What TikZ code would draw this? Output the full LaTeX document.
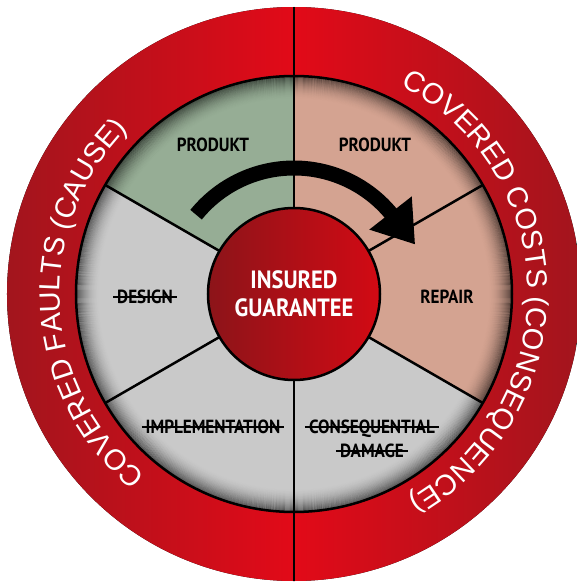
\documentclass[tikz,border=0pt]{standalone}
\usepackage{fontspec}
\setsansfont{Liberation Sans}
\newfontfamily\labelfont[FakeStretch=0.9]{PT Sans}
\usetikzlibrary{arrows.meta, decorations.text}
\definecolor{ringdark}{HTML}{A2151D}
\definecolor{ringlight}{HTML}{E20A18}
\definecolor{hubdark}{HTML}{8C1419}
\definecolor{hublight}{HTML}{D20A14}
\definecolor{causegreen}{HTML}{96AD95}
\definecolor{costsalmon}{HTML}{D4A391}
\definecolor{offgray}{HTML}{C9C9C9}

\begin{document}
\begin{tikzpicture}[x=1pt, y=1pt,
  sector/.style={line width=2.5pt},
  lbl/.style={font=\labelfont\bfseries\fontsize{19}{21}\selectfont, inner sep=0pt},
  struck/.style={lbl, inner xsep=4pt, text depth=0pt},
  strike/.style={line width=1.2pt},
  ringtext/.style={decorate, decoration={text along path, text align=center, text color=white, text={|\sffamily\fontsize{29}{30}\selectfont|#1}}}]
\useasboundingbox (-294,-290) rectangle (283,294);
\fill[left color=ringdark, right color=ringdark, middle color=ringlight] (0,0) circle (287);
\foreach \a/\b/\c in {90/150/causegreen, 30/90/costsalmon, -30/30/costsalmon, 150/210/offgray, 210/270/offgray, 270/330/offgray}
  \fill[\c] (0,0) -- (\a:218) arc[start angle=\a, end angle=\b, radius=218] -- cycle;
\foreach \i [evaluate=\i as \op using 0.55*(1-\i/24)^2] in {0,...,23}
  \draw[black, line width=1.1pt, opacity=\op] (0,0) circle (218-\i);
\foreach \a in {30,150,210,330}
  \draw[sector] (0,0) -- (\a:218);
\draw[sector] (0,287) -- (0,-287);
\draw[sector] (0,0) circle (218);
\node[circle, draw, line width=2.5pt, minimum size=172pt, left color=hubdark, right color=hublight] (hub) at (0,0) {};
\draw[line width=15pt, -{Triangle[length=40pt, width=51pt]}] (141:126) arc[start angle=141, end angle=40, radius=126] -- ++(-52:40);
\node[lbl] (prodL) at (-81,149) {PRODUKT};
\node[lbl] (prodR) at (81,149) {PRODUKT};
\node[lbl] (repair) at (153,-3) {REPAIR};
\node[struck] (design) at (-149,-3) {DESIGN};
\node[struck] (impl) at (-81,-133) {IMPLEMENTATION};
\node[struck] (cons1) at (78,-133) {CONSEQUENTIAL};
\node[struck] (cons2) at (78,-157) {DAMAGE};
\foreach \n in {design,impl,cons1,cons2}
  \draw[strike] (\n.west) -- (\n.east);
\node[font=\labelfont\bfseries\fontsize{25}{28}\selectfont, text=white, align=center, inner sep=0pt] (ins) at (hub) {INSURED\\GUARANTEE};
\path[ringtext={COVERED FAULTS (CAUSE)}] (273:234) arc[start angle=273, end angle=93, radius=234];
\path[ringtext={COVERED COSTS (CONSEQUENCE)}] (91:234) arc[start angle=91, end angle=-89, radius=234];
\end{tikzpicture}
\end{document}
